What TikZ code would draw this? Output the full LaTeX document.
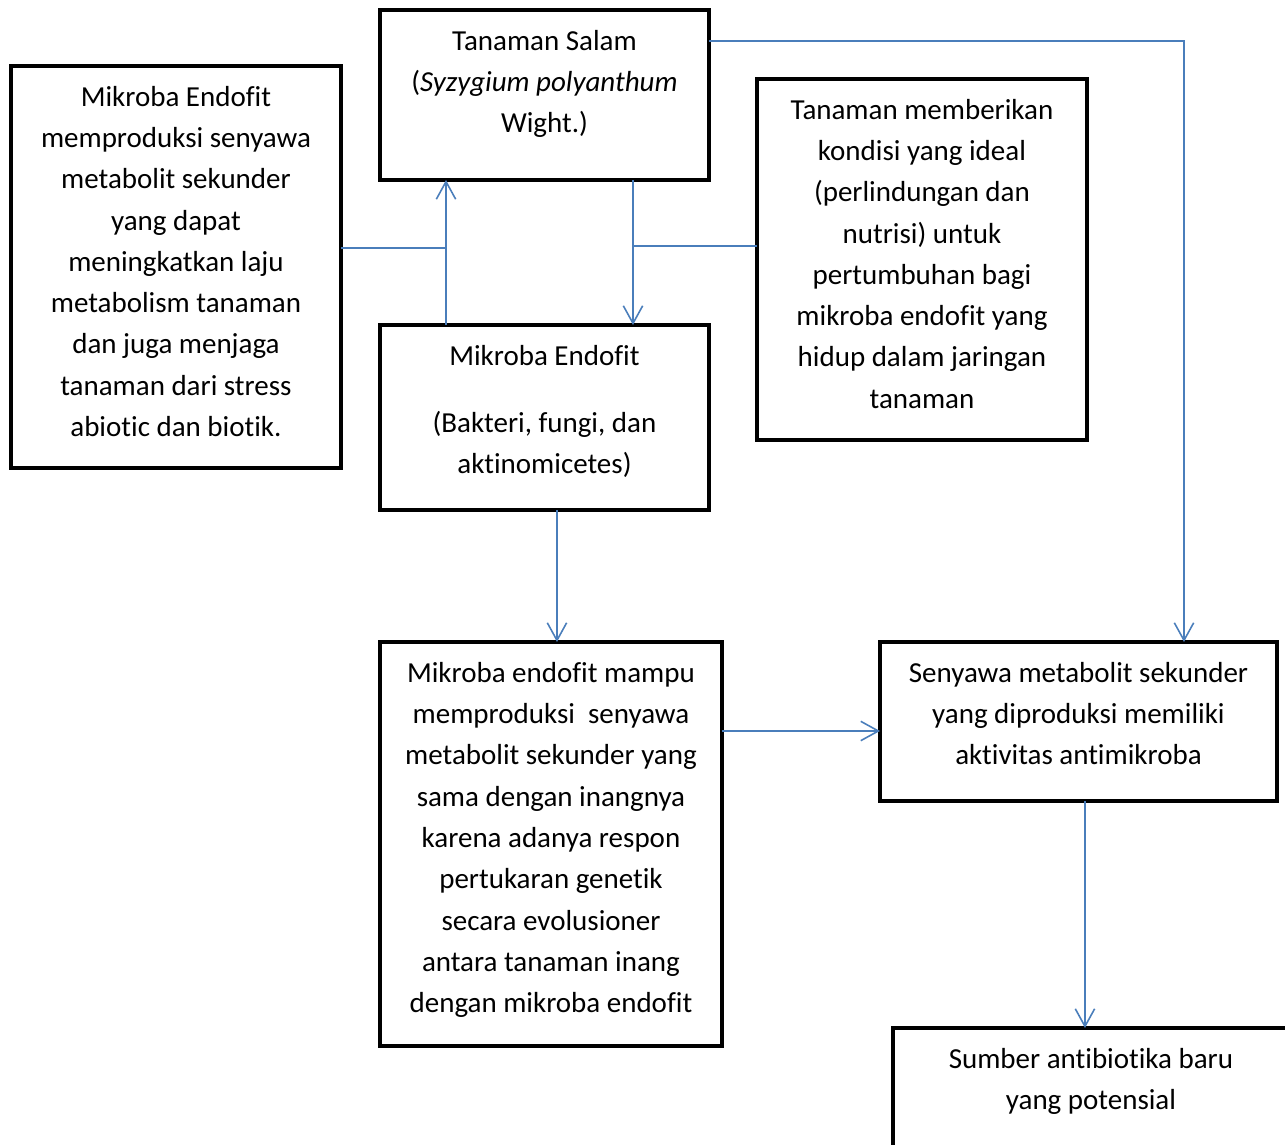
\documentclass[tikz,border=0pt]{standalone}
\usepackage{fontspec}
\setmainfont{Carlito}[Ligatures=NoCommon]
\usetikzlibrary{arrows.meta}
\definecolor{linkblue}{HTML}{4A7EBB}

\begin{document}
\begin{tikzpicture}[x=0.02cm, y=-0.02cm,
    box/.style={draw, line width=2.6pt, anchor=north west, inner sep=0, outer sep=0},
    txt/.style={anchor=north, align=center, inner sep=0,
        font=\fontsize{16.5}{23.5}\selectfont},
    link/.style={draw=linkblue, line width=0.9pt},
    >={Straight Barb[length=10pt, width=11pt]},
]
\useasboundingbox (0,0) rectangle (1285,1144);

% boxes
\node[box, minimum width=6.58cm, minimum height=3.40cm] (salam) at (380,10) {};
\node[box, minimum width=6.60cm, minimum height=8.04cm] (produksi) at (11,66) {};
\node[box, minimum width=6.60cm, minimum height=7.22cm] (kondisi) at (757,79) {};
\node[box, minimum width=6.58cm, minimum height=3.70cm] (endofit) at (380,325) {};
\node[box, minimum width=6.84cm, minimum height=8.08cm] (mampu) at (380,642) {};
\node[box, minimum width=7.94cm, minimum height=3.18cm] (senyawa) at (880,642) {};
\node[box, minimum width=8.40cm, minimum height=3.20cm] (sumber) at (893,1028) {};

% texts
\node[txt] (salamT) at ([yshift=-0.22cm]salam.north)
    {\strut Tanaman Salam\\(\textit{Syzygium polyanthum}\\Wight.)};
\node[txt] (produksiT) at ([yshift=-0.22cm]produksi.north)
    {\strut Mikroba Endofit\\memproduksi senyawa\\metabolit sekunder\\yang dapat\\meningkatkan laju\\metabolism tanaman\\dan juga menjaga\\tanaman dari stress\\abiotic dan biotik.};
\node[txt] (kondisiT) at ([yshift=-0.22cm]kondisi.north)
    {\strut Tanaman memberikan\\kondisi yang ideal\\(perlindungan dan\\nutrisi) untuk\\pertumbuhan bagi\\mikroba endofit yang\\hidup dalam jaringan\\tanaman};
\node[txt] (endofitT) at ([yshift=-0.22cm]endofit.north)
    {\strut Mikroba Endofit\\[0.52cm](Bakteri, fungi, dan\\aktinomicetes)};
\node[txt] (mampuT) at ([yshift=-0.22cm]mampu.north)
    {\strut Mikroba endofit mampu\\memproduksi\ \ senyawa\\metabolit sekunder yang\\sama dengan inangnya\\karena adanya respon\\pertukaran genetik\\secara evolusioner\\antara tanaman inang\\dengan mikroba endofit};
\node[txt] (senyawaT) at ([yshift=-0.22cm]senyawa.north)
    {\strut Senyawa metabolit sekunder\\yang diproduksi memiliki\\aktivitas antimikroba};
\node[txt] (sumberT) at ([xshift=-0.24cm,yshift=-0.22cm]sumber.north)
    {\strut Sumber antibiotika baru\\yang potensial};

% connectors
\coordinate (jL) at (446,248);
\coordinate (jR) at (633,246);
\coordinate (kanan) at (1184,41);
\coordinate (turun) at ([xshift=0.25cm]endofit.south);
\coordinate (masuk) at ([yshift=-0.19cm]senyawa.west);
\coordinate (bawah) at ([xshift=0.13cm]senyawa.south);
\draw[link] (produksi.east |- jL) -- (jL);
\draw[link,->] (endofit.north -| jL) -- (salam.south -| jL);
\draw[link] (kondisi.west |- jR) -- (jR);
\draw[link,->] (salam.south -| jR) -- (endofit.north -| jR);
\draw[link,->] (salam.east |- kanan) -- (kanan) -- (senyawa.north -| kanan);
\draw[link,->] (turun) -- (turun |- mampu.north);
\draw[link,->] (mampu.east |- masuk) -- (masuk);
\draw[link,->] (bawah) -- (bawah |- sumber.north);
\end{tikzpicture}
\end{document}
